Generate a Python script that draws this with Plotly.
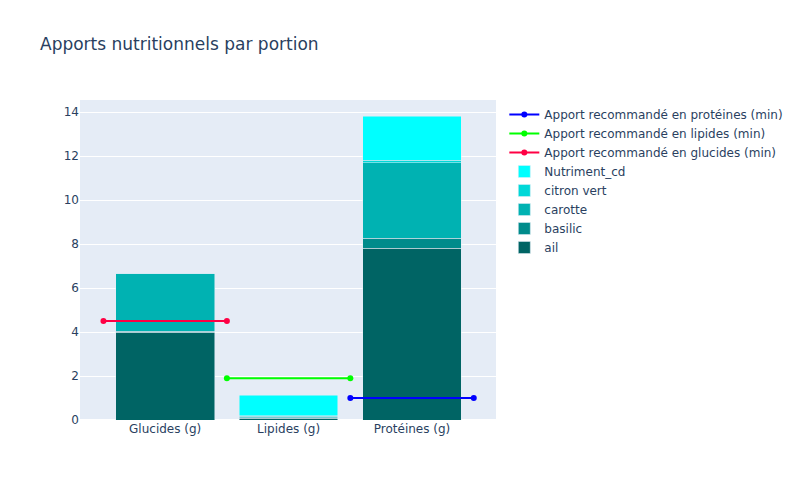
import plotly.graph_objects as go

categories = ["Glucides (g)", "Lipides (g)", "Protéines (g)"]
ingredients = ["ail", "basilic", "carotte", "citron vert", "Nutriment_cd"]
ail = [4.0, 0.08, 7.82]
basilic = [0.03, 0.02, 0.44]
carotte = [2.63, 0.06, 3.44]
citron_vert = [0.02, 0.03, 0.12]
nutriment_cd = [0.0, 0.93, 2.0]
values = [ail, basilic, carotte, citron_vert, nutriment_cd]
colors = ["#006464", "#008b8b", "#00b2b2", "#00d8d8", "#00ffff"]

reco_names = ["Apport recommandé en glucides (min)", "Apport recommandé en lipides (min)",
              "Apport recommandé en protéines (min)"]
reco_values = [4.5, 1.9, 1.0]
reco_colors = ["#ff0044", "#00ff00", "#0000ff"]

x = list(range(len(categories)))
fig = go.Figure()
for name, vals, c in zip(ingredients, values, colors):
    fig.add_trace(go.Bar(x=x, y=vals, name=name, marker_color=c))
for i, (name, v, c) in enumerate(zip(reco_names, reco_values, reco_colors)):
    fig.add_trace(go.Scatter(x=[i - 0.5, i + 0.5], y=[v, v], mode="lines+markers",
                             name=name, line=dict(color=c, width=2), marker=dict(color=c, size=6)))

fig.update_layout(
    barmode="stack",
    font=dict(family="DejaVu Sans"),
    title=dict(text="Apports nutritionnels par portion"),
    width=800, height=500,
    xaxis=dict(tickmode="array", tickvals=x, ticktext=categories, range=[-0.69, 2.68], showgrid=False, zeroline=False),
    yaxis=dict(range=[0, 14.55]),
)
fig.write_html("out.html")
